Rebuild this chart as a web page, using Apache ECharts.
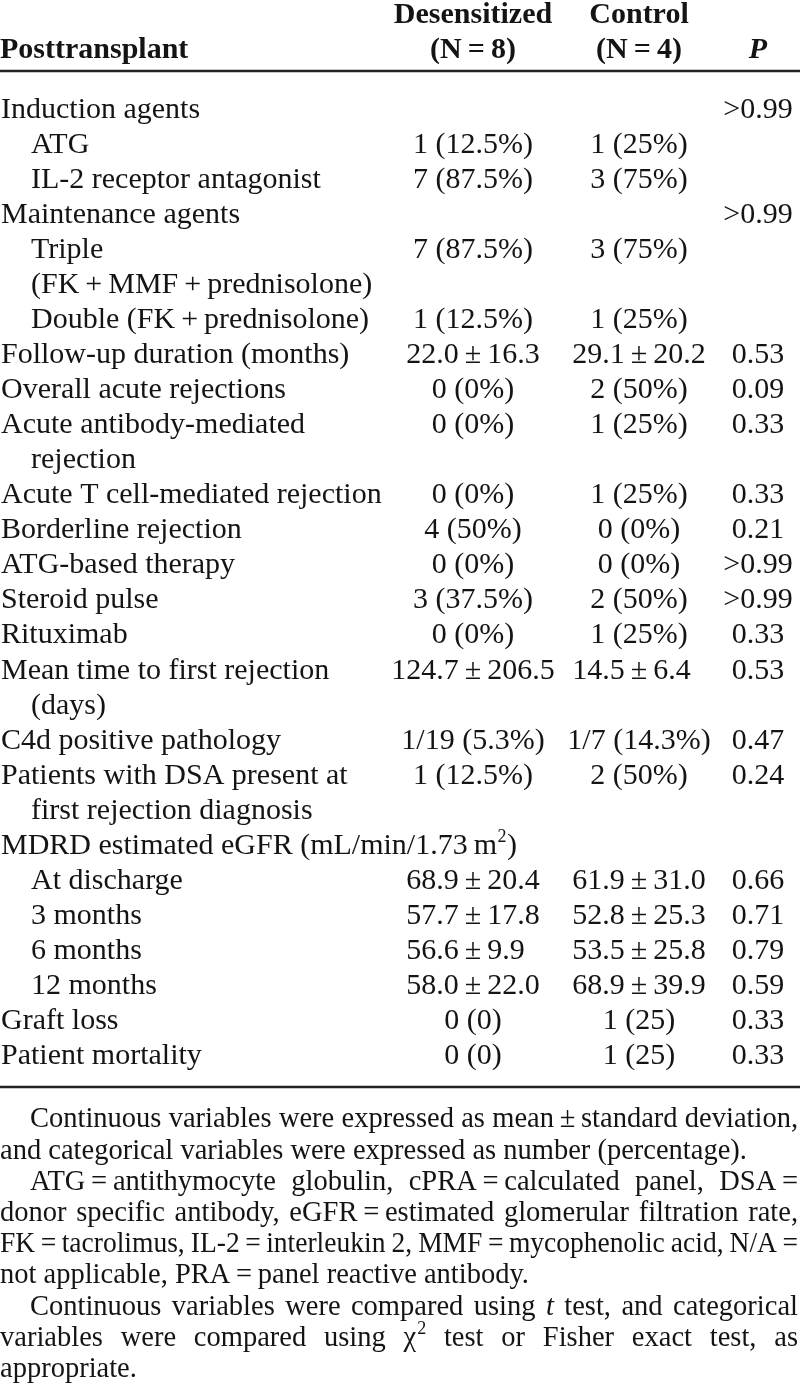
<!DOCTYPE html>
<html><head><meta charset="utf-8">
<script src="https://cdn.jsdelivr.net/npm/echarts@6/dist/echarts.min.js"></script>
<style>html,body{margin:0;padding:0;background:#fff}#c{width:800px;height:1386px}</style>
</head><body><div id="c"></div>
<script>
// ---------- DATA ----------
const T = '\u2009';
const headerDes = ['Desensitized', '(N' + T + '=' + T + '8)'];
const headerCtrl = ['Control', '(N' + T + '=' + T + '4)'];
const headerStub = 'Posttransplant';
const headerP = 'P';
const rowLabels = [
  'Induction agents', 'ATG', 'IL-2 receptor antagonist', 'Maintenance agents', 'Triple',
  '(FK' + T + '+' + T + 'MMF' + T + '+' + T + 'prednisolone)', 'Double (FK' + T + '+' + T + 'prednisolone)',
  'Follow-up duration (months)', 'Overall acute rejections', 'Acute antibody-mediated', 'rejection',
  'Acute T cell-mediated rejection', 'Borderline rejection', 'ATG-based therapy', 'Steroid pulse',
  'Rituximab', 'Mean time to first rejection', '(days)', 'C4d positive pathology',
  'Patients with DSA present at', 'first rejection diagnosis', 'MDRD estimated eGFR (mL/min/1.73' + T + 'm^2)',
  'At discharge', '3 months', '6 months', '12 months', 'Graft loss', 'Patient mortality'
];
const rowIndent = [0,1,1,0,1,1,1,0,0,0,1,0,0,0,0,0,0,1,0,0,1,0,1,1,1,1,0,0];
const pm = T + '±' + T;
const desensitized = [
  '', '1 (12.5%)', '7 (87.5%)', '', '7 (87.5%)', '', '1 (12.5%)', '22.0' + pm + '16.3', '0 (0%)', '0 (0%)', '',
  '0 (0%)', '4 (50%)', '0 (0%)', '3 (37.5%)', '0 (0%)', '124.7' + pm + '206.5', '', '1/19 (5.3%)',
  '1 (12.5%)', '', '', '68.9' + pm + '20.4', '57.7' + pm + '17.8', '56.6' + pm + '9.9', '58.0' + pm + '22.0', '0 (0)', '0 (0)'
];
const control = [
  '', '1 (25%)', '3 (75%)', '', '3 (75%)', '', '1 (25%)', '29.1' + pm + '20.2', '2 (50%)', '1 (25%)', '',
  '1 (25%)', '0 (0%)', '0 (0%)', '2 (50%)', '1 (25%)', '14.5' + pm + '6.4', '', '1/7 (14.3%)',
  '2 (50%)', '', '', '61.9' + pm + '31.0', '52.8' + pm + '25.3', '53.5' + pm + '25.8', '68.9' + pm + '39.9', '1 (25)', '1 (25)'
];
const pValues = [
  '>0.99', '', '', '>0.99', '', '', '', '0.53', '0.09', '0.33', '',
  '0.33', '0.21', '>0.99', '>0.99', '0.33', '0.53', '', '0.47',
  '0.24', '', '', '0.66', '0.71', '0.79', '0.59', '0.33', '0.33'
];
// footnotes: [indentFirst, justify, text]; *x* = italic, a^b = superscript
const footnoteLines = [
  [1, 1, 'Continuous variables were expressed as mean' + pm + 'standard deviation,'],
  [0, 0, 'and categorical variables were expressed as number (percentage).'],
  [1, 1, 'ATG' + T + '=' + T + 'antithymocyte globulin, cPRA' + T + '=' + T + 'calculated panel, DSA' + T + '='],
  [0, 1, 'donor specific antibody, eGFR' + T + '=' + T + 'estimated glomerular filtration rate,'],
  [0, 1, 'FK' + T + '=' + T + 'tacrolimus, IL-2' + T + '=' + T + 'interleukin 2, MMF' + T + '=' + T + 'mycophenolic acid, N/A' + T + '='],
  [0, 0, 'not applicable, PRA' + T + '=' + T + 'panel reactive antibody.'],
  [1, 1, 'Continuous variables were compared using *t* test, and categorical'],
  [0, 1, 'variables were compared using χ^2 test or Fisher exact test, as'],
  [0, 0, 'appropriate.']
];

// ---------- LAYOUT ----------
const FONT = '"Liberation Serif", "Times New Roman", serif';
const L = {
  body: 30, note: 28.5, sup: 18, color: '#141414',
  rowTop: 110, rowStep: 35.04, indent: 31,
  colDes: 473, colCtrl: 639, colP: 758,
  headY1: 15, headY2: 50, rule1: 71, rule2: 1087, ruleW: 2.5,
  noteTop: 1120, noteStep: 31.2, noteIndent: 30, noteRight: 798
};

const cv = document.createElement('canvas').getContext('2d');
function measure(t, size, style, weight) {
  cv.font = (style || 'normal') + ' ' + (weight || 'normal') + ' ' + size + 'px ' + FONT;
  return cv.measureText(t).width;
}
function txt(x, y, t, o) {
  o = o || {};
  return {
    type: 'text', x: x, y: y, silent: true, scaleX: o.scaleX || 1,
    style: {
      text: t, fill: L.color, fontFamily: FONT, fontSize: o.size || L.body,
      fontWeight: o.weight || 'normal', fontStyle: o.style || 'normal',
      align: o.align || 'left', textAlign: o.align || 'left',
      verticalAlign: 'middle', textVerticalAlign: 'middle'
    }
  };
}
// cells with ± are aligned on the ± sign at the column centre
function cell(col, y, t) {
  if (t.indexOf('±') >= 0) {
    const i = t.indexOf('±');
    const left = t.slice(0, i);
    const wl = measure(left, L.body), wp = measure('±', L.body);
    return txt(col - wl - wp / 2, y, t);
  }
  return txt(col, y, t, {align: 'center'});
}
const els = [];
// header
els.push(txt(L.colDes, L.headY1, headerDes[0], {align: 'center', weight: 'bold'}));
els.push(txt(L.colDes, L.headY2, headerDes[1], {align: 'center', weight: 'bold'}));
els.push(txt(L.colCtrl, L.headY1, headerCtrl[0], {align: 'center', weight: 'bold'}));
els.push(txt(L.colCtrl, L.headY2, headerCtrl[1], {align: 'center', weight: 'bold'}));
els.push(txt(0, L.headY2, headerStub, {weight: 'bold'}));
els.push(txt(L.colP, L.headY2, headerP, {align: 'center', weight: 'bold', style: 'italic'}));
// rules
[L.rule1, L.rule2].forEach(function (y) {
  els.push({type: 'line', silent: true, shape: {x1: 0, y1: y, x2: 800, y2: y}, style: {stroke: '#222', lineWidth: L.ruleW}});
});
// rows
rowLabels.forEach(function (lab, i) {
  const y = L.rowTop + i * L.rowStep;
  const x = rowIndent[i] ? L.indent : 1;
  if (lab.indexOf('^') >= 0) {
    const m = lab.match(/^(.*)\^(.)(.*)$/);
    const w1 = measure(m[1], L.body);
    els.push(txt(x, y, m[1]));
    els.push(txt(x + w1 + 0.5, y - 9, m[2], {size: L.sup}));
    const w2 = measure(m[2], L.sup);
    els.push(txt(x + w1 + w2 + 1, y, m[3]));
  } else {
    els.push(txt(x, y, lab));
  }
  if (desensitized[i]) els.push(cell(L.colDes, y, desensitized[i]));
  if (control[i]) els.push(cell(L.colCtrl, y, control[i]));
  if (pValues[i]) els.push(txt(L.colP, y, pValues[i], {align: 'center'}));
});
// footnotes (justified, compressed when a line is too long)
footnoteLines.forEach(function (ln, i) {
  const y = L.noteTop + i * L.noteStep;
  const x0 = ln[0] ? L.noteIndent : 0;
  const words = ln[2].split(' ').map(function (w) {
    if (/^\*.*\*$/.test(w)) {
      const t = w.slice(1, -1);
      return {parts: [{t: t, style: 'italic'}], w: measure(t, L.note, 'italic')};
    }
    if (w.indexOf('^') >= 0) {
      const p = w.split('^');
      const a = measure(p[0], L.note), b = measure(p[1], L.sup);
      return {parts: [{t: p[0]}, {t: p[1], sup: true, dx: a + 1}], w: a + b + 1};
    }
    return {parts: [{t: w}], w: measure(w, L.note)};
  });
  const total = words.reduce(function (s, w) { return s + w.w; }, 0);
  const sp = measure(' ', L.note);
  const avail = L.noteRight - x0;
  let gap = ln[1] ? (avail - total) / (words.length - 1) : sp;
  let s = 1;
  const minGap = sp * 0.85;
  if (gap < minGap) {
    gap = minGap;
    s = (avail - (words.length - 1) * minGap) / total;
  }
  let x = x0;
  words.forEach(function (w) {
    w.parts.forEach(function (p) {
      if (p.sup) els.push(txt(x + p.dx * s, y - 9, p.t, {size: L.sup, scaleX: s}));
      else els.push(txt(x, y, p.t, {size: L.note, style: p.style, scaleX: s}));
    });
    x += w.w * s + gap;
  });
});

const chart = echarts.init(document.getElementById('c'), null, {renderer: 'canvas'});
chart.setOption({backgroundColor: '#fff', animation: false, graphic: {elements: els}});
</script></body></html>
